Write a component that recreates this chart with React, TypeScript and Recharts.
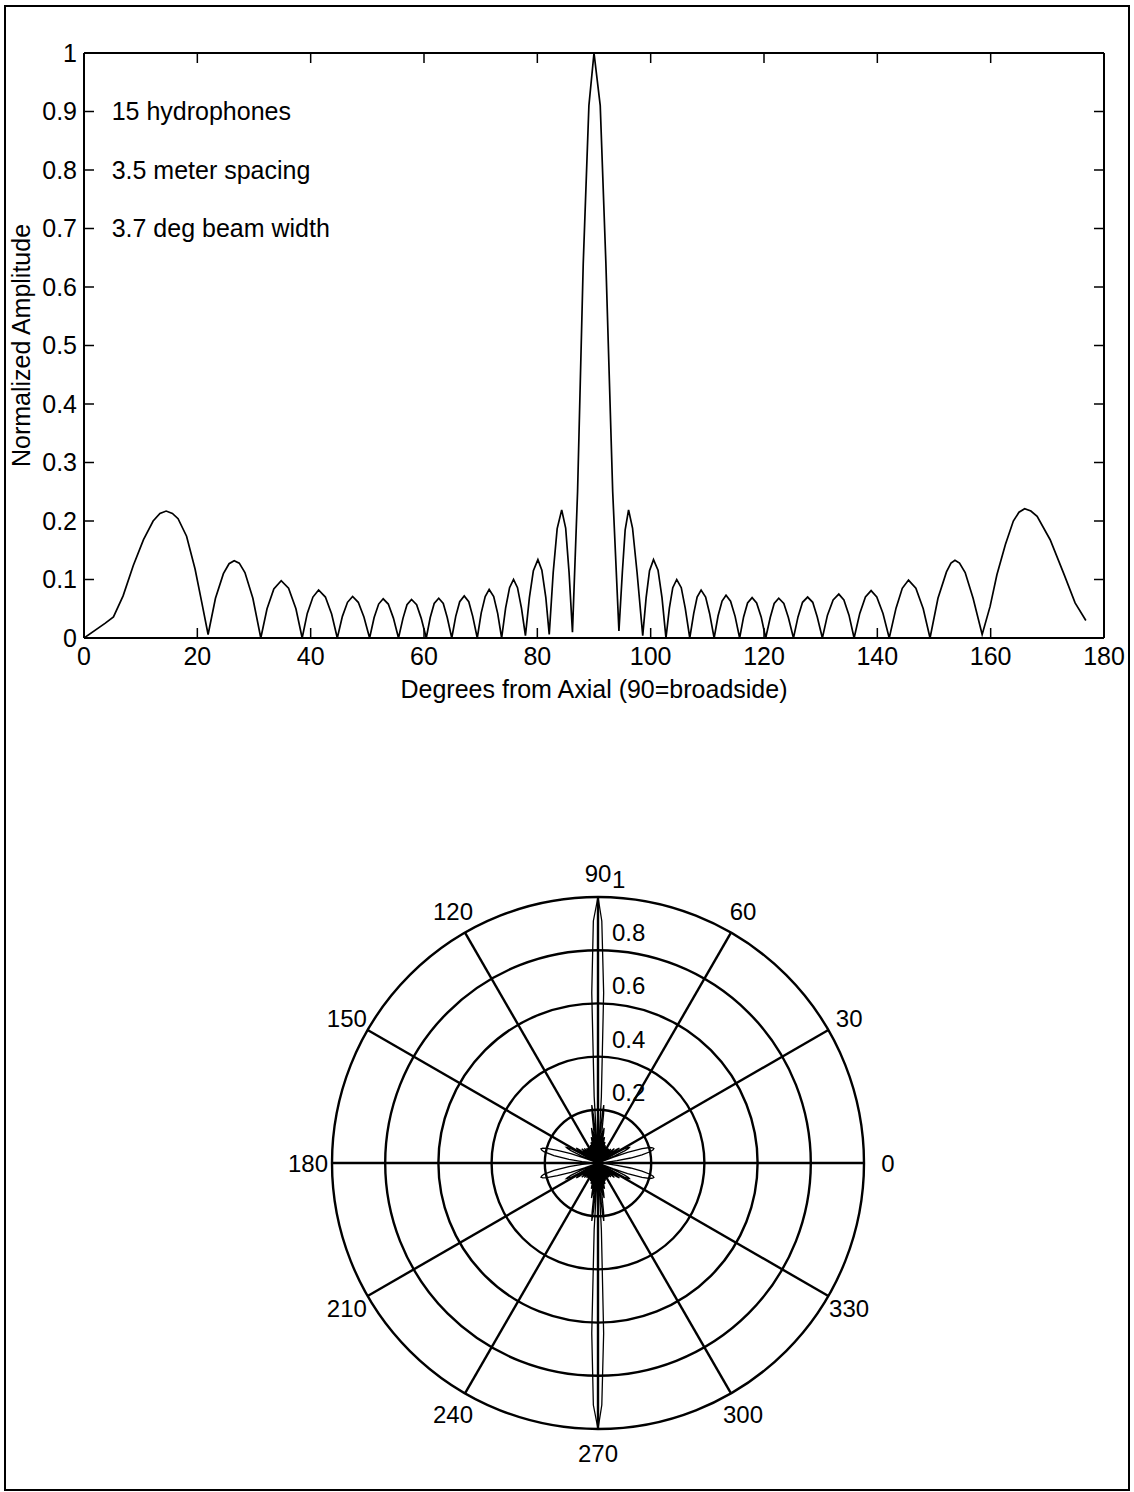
import React from 'react';
import {
  LineChart,
  Line,
  XAxis,
  YAxis,
  Label,
  ReferenceDot,
  RadarChart,
  Radar,
  PolarGrid,
  PolarAngleAxis,
  PolarRadiusAxis,
} from 'recharts';

const FONT = '"Liberation Sans", Arial, Helvetica, sans-serif';
const INK = '#000';

// Beam pattern: degrees from axial (0-180) against normalized amplitude, one row per lobe
const beamAngles = [
  0, 3.7, 5.2, 6.9, 8.7, 10.5, 12.2, 13.4, 14.5, 15.6, 16.6, 18.1, 19.6, 20.8, 21.9,
  23.2, 24.6, 25.6, 26.5, 27.4, 28.4, 29.8, 31.2,
  32.3, 33.5, 34.8, 36.1, 37.4, 38.5,
  39.4, 40.4, 41.4, 42.6, 43.7, 44.7,
  45.6, 46.5, 47.4, 48.4, 49.4, 50.4,
  51.2, 52.0, 52.8, 53.7, 54.6, 55.5,
  56.3, 57.0, 57.8, 58.7, 59.5, 60.4,
  61.1, 61.8, 62.6, 63.4, 64.1, 64.9,
  65.6, 66.3, 67.1, 67.9, 68.6, 69.4,
  70.1, 70.8, 71.5, 72.3, 73.0, 73.7,
  74.4, 75.1, 75.8, 76.5, 77.2, 77.9,
  78.6, 79.3, 80.1, 80.8, 81.5, 82.1,
  82.8, 83.5, 84.3, 85.0, 85.6, 86.2,
  87.1, 88.1, 89.1, 90.0, 91.1, 92.1, 93.3, 94.4,
  95.0, 95.5, 96.1, 96.8, 97.6, 98.6,
  99.2, 99.8, 100.5, 101.3, 102.0, 102.7,
  103.3, 103.9, 104.6, 105.4, 106.1, 106.9,
  107.6, 108.2, 108.9, 109.7, 110.4, 111.2,
  111.9, 112.6, 113.3, 114.1, 114.9, 115.7,
  116.4, 117.1, 117.9, 118.7, 119.5, 120.3,
  121.1, 121.8, 122.6, 123.5, 124.3, 125.2,
  126.0, 126.8, 127.7, 128.6, 129.4, 130.3,
  131.2, 132.2, 133.2, 134.1, 135.0, 135.9,
  136.9, 137.9, 138.9, 139.9, 141.0, 142.1,
  143.3, 144.4, 145.5, 146.8, 148.1, 149.3,
  150.7, 152.2, 153.0, 153.7, 154.5, 155.5, 156.9, 158.5,
  159.9, 161.1, 162.6, 164.0, 165.0, 166.0, 167.1, 168.2, 170.5, 172.9, 174.9, 176.8,
];

const beamAmplitude = [
  0, 0.025, 0.036, 0.072, 0.124, 0.168, 0.2, 0.213, 0.217, 0.213, 0.204, 0.174, 0.118, 0.06, 0.006,
  0.068, 0.11, 0.127, 0.132, 0.128, 0.112, 0.068, 0,
  0.05, 0.084, 0.098, 0.085, 0.05, 0,
  0.042, 0.07, 0.082, 0.07, 0.041, 0,
  0.037, 0.061, 0.071, 0.061, 0.036, 0,
  0.035, 0.058, 0.067, 0.058, 0.034, 0,
  0.034, 0.057, 0.066, 0.057, 0.034, 0,
  0.035, 0.059, 0.068, 0.059, 0.035, 0,
  0.037, 0.062, 0.072, 0.062, 0.037, 0,
  0.043, 0.071, 0.083, 0.071, 0.042, 0,
  0.051, 0.086, 0.1, 0.086, 0.051, 0.004,
  0.069, 0.115, 0.134, 0.116, 0.069, 0.006,
  0.112, 0.187, 0.219, 0.188, 0.112, 0.01,
  0.25, 0.64, 0.91, 1, 0.91, 0.64, 0.25, 0.012,
  0.112, 0.185, 0.219, 0.188, 0.112, 0.004,
  0.069, 0.115, 0.134, 0.116, 0.069, 0,
  0.051, 0.086, 0.1, 0.086, 0.051, 0,
  0.042, 0.07, 0.082, 0.07, 0.042, 0,
  0.038, 0.063, 0.073, 0.063, 0.037, 0,
  0.036, 0.06, 0.069, 0.06, 0.036, 0,
  0.035, 0.059, 0.068, 0.059, 0.035, 0,
  0.036, 0.061, 0.07, 0.061, 0.036, 0,
  0.039, 0.065, 0.075, 0.065, 0.039, 0,
  0.042, 0.07, 0.081, 0.07, 0.042, 0,
  0.051, 0.085, 0.099, 0.085, 0.05, 0,
  0.068, 0.113, 0.128, 0.133, 0.128, 0.112, 0.068, 0.006,
  0.054, 0.108, 0.16, 0.2, 0.215, 0.221, 0.217, 0.208, 0.168, 0.11, 0.06, 0.03,
];

const xTicks = [0, 20, 40, 60, 80, 100, 120, 140, 160, 180];
const yTicks = [0, 0.1, 0.2, 0.3, 0.4, 0.5, 0.6, 0.7, 0.8, 0.9, 1];
const polarAngles = [0, 30, 60, 90, 120, 150, 180, 210, 240, 270, 300, 330];
const polarRings = [0, 0.2, 0.4, 0.6, 0.8, 1];

const notes = ['15 hydrophones', '3.5 meter spacing', '3.7 deg beam width'];
const noteLevels = [0.9, 0.8, 0.7];

const beamData = beamAngles.map((deg, i) => ({ deg, amp: beamAmplitude[i] }));

// full circle: 0-180 as measured, 180-360 mirrored
const polarData = [
  ...beamData.map((p) => ({ angle: p.deg, amp: p.amp })),
  ...[...beamData].reverse().map((p) => ({ angle: 360 - p.deg, amp: p.amp })),
];

const axisLine = { stroke: INK, strokeWidth: 2 };
const tickLine = { stroke: INK, strokeWidth: 1.5 };
const tickText = { fill: INK, fontSize: 25, fontFamily: FONT };

// top/right box edges carry tick marks but no numbers
const NoLabel = () => <g />;

const YTitle = (props: any) => {
  const vb = props.viewBox ?? { x: 0, y: 53, width: 84, height: 585 };
  const x = vb.x + 21;
  const y = vb.y + vb.height / 2;
  return (
    <text
      x={x}
      y={y}
      dy="0.36em"
      transform={`rotate(-90 ${x} ${y})`}
      textAnchor="middle"
      fill={INK}
      fontSize={25}
      fontFamily={FONT}
    >
      Normalized Amplitude
    </text>
  );
};

const AngleTick = (props: any) => {
  const { x, y, payload } = props;
  if (payload.value === 360) return <g />;
  return (
    <text x={x} y={y} dy="0.36em" textAnchor="middle" fill={INK} fontSize={24} fontFamily={FONT}>
      {payload.value}
    </text>
  );
};

const RadiusTick = (props: any) => {
  const { x, y, payload } = props;
  if (!payload.value) return <g />;
  return (
    <text x={x + 14} y={y - 9} textAnchor="start" fill={INK} fontSize={24} fontFamily={FONT}>
      {String(Number(Number(payload.value).toFixed(1)))}
    </text>
  );
};

export default function App() {
  return (
    <div
      style={{
        position: 'absolute',
        left: 0,
        top: 0,
        width: 1134,
        height: 1492,
        background: '#fff',
        overflow: 'hidden',
      }}
    >
      <div
        style={{
          position: 'absolute',
          left: 4,
          top: 5,
          width: 1126,
          height: 1486,
          border: '2px solid #000',
          boxSizing: 'border-box',
        }}
      />

      <div style={{ position: 'absolute', left: 0, top: 0 }}>
        <LineChart
          width={1134}
          height={740}
          data={beamData}
          margin={{ top: 52, right: 29, bottom: 0, left: 0 }}
        >
          <XAxis
            xAxisId="bottom"
            dataKey="deg"
            type="number"
            domain={[0, 180]}
            ticks={xTicks}
            interval={0}
            allowDataOverflow
            height={102}
            tickSize={-10}
            tickMargin={19}
            axisLine={axisLine}
            tickLine={tickLine}
            tick={tickText}
          >
            <Label
              value="Degrees from Axial (90=broadside)"
              position="center"
              fill={INK}
              fontSize={25}
              fontFamily={FONT}
            />
          </XAxis>
          <XAxis
            xAxisId="top"
            orientation="top"
            dataKey="deg"
            type="number"
            domain={[0, 180]}
            ticks={xTicks}
            interval={0}
            allowDataOverflow
            height={1}
            tickSize={-10}
            axisLine={axisLine}
            tickLine={tickLine}
            tick={NoLabel}
          />
          <YAxis
            yAxisId="left"
            type="number"
            domain={[0, 1]}
            ticks={yTicks}
            interval={0}
            allowDataOverflow
            width={84}
            tickSize={-10}
            tickMargin={17}
            axisLine={axisLine}
            tickLine={tickLine}
            tick={tickText}
          >
            <Label content={YTitle} />
          </YAxis>
          <YAxis
            yAxisId="right"
            orientation="right"
            type="number"
            domain={[0, 1]}
            ticks={yTicks}
            interval={0}
            allowDataOverflow
            width={1}
            tickSize={-10}
            axisLine={axisLine}
            tickLine={tickLine}
            tick={NoLabel}
          />
          {notes.map((note, i) => (
            <ReferenceDot
              key={note}
              xAxisId="bottom"
              yAxisId="left"
              x={4}
              y={noteLevels[i]}
              r={0}
              fill="none"
              stroke="none"
              label={{
                value: note,
                position: 'right',
                offset: 5,
                fill: INK,
                fontSize: 25,
                fontFamily: FONT,
              }}
            />
          ))}
          <Line
            xAxisId="bottom"
            yAxisId="left"
            dataKey="amp"
            type="linear"
            stroke={INK}
            strokeWidth={1.7}
            dot={false}
            activeDot={false}
            isAnimationActive={false}
          />
        </LineChart>
      </div>

      <div style={{ position: 'absolute', left: 0, top: 740 }}>
        <RadarChart
          width={1134}
          height={752}
          data={polarData}
          cx={598}
          cy={423}
          outerRadius={266}
          startAngle={0}
          endAngle={360}
          margin={{ top: 0, right: 0, bottom: 0, left: 0 }}
        >
          <PolarGrid gridType="circle" stroke={INK} strokeWidth={2.4} />
          <PolarAngleAxis
            dataKey="angle"
            type="number"
            domain={[0, 360]}
            ticks={polarAngles as any}
            tickCount={13}
            axisLine={false}
            tickLine={false}
            tickSize={24}
            tick={AngleTick}
          />
          <PolarRadiusAxis
            angle={90}
            type="number"
            scale="linear"
            domain={[0, 1]}
            ticks={polarRings as any}
            tickCount={6}
            allowDataOverflow
            axisLine={false}
            tick={RadiusTick}
          />
          <Radar
            dataKey="amp"
            stroke={INK}
            strokeWidth={1.3}
            fill="none"
            fillOpacity={0}
            dot={false}
            isAnimationActive={false}
          />
        </RadarChart>
      </div>
    </div>
  );
}
